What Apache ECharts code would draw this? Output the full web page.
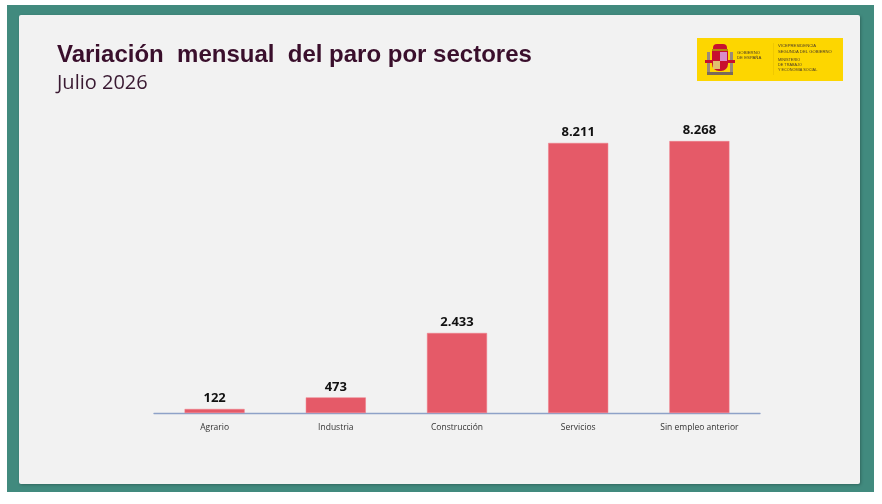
<!DOCTYPE html>
<html>
<head>
<meta charset="utf-8">
<script src="https://cdn.jsdelivr.net/npm/echarts@6/dist/echarts.min.js"></script>
<style>
html,body{margin:0;padding:0;background:#ffffff;}
#c{width:882px;height:504px;}
</style>
</head>
<body>
<div id="c"></div>
<script>
const categories = ['Agrario', 'Industria', 'Construcción', 'Servicios', 'Sin empleo anterior'];
const values = [122, 473, 2433, 8211, 8268];
const titleText = 'Variación  mensual  del paro por sectores';
const subtitleText = 'Julio 2026';

function fmt(v) {
  return String(v).replace(/\B(?=(\d{3})+(?!\d))/g, '.');
}

const chart = echarts.init(document.getElementById('c'), null, { renderer: 'canvas' });

const logoGraphics = [
  { type: 'rect', shape: { x: 697, y: 38, width: 146, height: 43 }, style: { fill: '#fdd600' }, z: 2 },
  // crown
  { type: 'rect', shape: { x: 713, y: 44, width: 14, height: 6, r: [4,4,0,0] }, style: { fill: '#c8102e' }, z: 3 },
  { type: 'rect', shape: { x: 712, y: 49, width: 16, height: 2 }, style: { fill: '#b8860b' }, z: 3 },
  // pillars
  { type: 'rect', shape: { x: 707, y: 52, width: 3, height: 20 }, style: { fill: '#9a8a7a' }, z: 3 },
  { type: 'rect', shape: { x: 730, y: 52, width: 3, height: 20 }, style: { fill: '#9a8a7a' }, z: 3 },
  { type: 'rect', shape: { x: 705, y: 60, width: 30, height: 3 }, style: { fill: '#c8102e' }, z: 3 },
  // shield
  { type: 'rect', shape: { x: 712, y: 51, width: 16, height: 20, r: [0,0,7,7] }, style: { fill: '#c8102e' }, z: 4 },
  { type: 'rect', shape: { x: 720, y: 52, width: 7, height: 9 }, style: { fill: '#d98cc8' }, z: 5 },
  { type: 'rect', shape: { x: 713, y: 61, width: 7, height: 8 }, style: { fill: '#e0c070' }, z: 5 },
  { type: 'rect', shape: { x: 707, y: 72, width: 26, height: 3 }, style: { fill: '#7a6a5a' }, z: 3 },
  // text
  { type: 'text', x: 737, y: 51, style: { text: 'GOBIERNO', fill: '#4a3a2a', font: '4.3px "Liberation Sans"' }, z: 5 },
  { type: 'text', x: 737, y: 56, style: { text: 'DE ESPAÑA', fill: '#4a3a2a', font: '4.3px "Liberation Sans"' }, z: 5 },
  { type: 'rect', shape: { x: 773, y: 43, width: 0.6, height: 32 }, style: { fill: '#e8c000' }, z: 5 },
  { type: 'text', x: 778, y: 44, style: { text: 'VICEPRESIDENCIA', fill: '#4a3a2a', font: '4.2px "Liberation Sans"' }, z: 5 },
  { type: 'text', x: 778, y: 50, style: { text: 'SEGUNDA DEL GOBIERNO', fill: '#4a3a2a', font: '4.2px "Liberation Sans"' }, z: 5 },
  { type: 'text', x: 778, y: 58, style: { text: 'MINISTERIO', fill: '#4a3a2a', font: '3.8px "Liberation Sans"' }, z: 5 },
  { type: 'text', x: 778, y: 63, style: { text: 'DE TRABAJO', fill: '#4a3a2a', font: '3.8px "Liberation Sans"' }, z: 5 },
  { type: 'text', x: 778, y: 68, style: { text: 'Y ECONOMÍA SOCIAL', fill: '#4a3a2a', font: '3.8px "Liberation Sans"' }, z: 5 }
];

chart.setOption({
  animation: false,
  backgroundColor: '#ffffff',
  graphic: [
    { type: 'rect', shape: { x: 7, y: 5, width: 867, height: 487 }, style: { fill: '#418a7e' }, z: -10 },
    { type: 'rect', shape: { x: 19, y: 15, width: 841, height: 469, r: 2 },
      style: { fill: '#f2f2f2', shadowBlur: 3, shadowColor: 'rgba(0,0,0,0.25)', shadowOffsetX: 1, shadowOffsetY: 1 }, z: -9 }
  ].concat(logoGraphics),
  title: {
    text: titleText,
    subtext: subtitleText,
    left: 52,
    top: 38,
    itemGap: 6,
    textStyle: { fontFamily: 'Liberation Sans', fontWeight: 'bold', fontSize: 24, color: '#3a0f2c' },
    subtextStyle: { fontFamily: 'Open Sans', fontSize: 20, color: '#3a1a32' }
  },
  grid: { left: 154, right: 122, top: 117, bottom: 91, containLabel: false },
  xAxis: {
    type: 'category',
    data: categories,
    axisLine: { lineStyle: { color: '#8ea2c8', width: 1.3 } },
    axisTick: { show: false },
    axisLabel: { fontFamily: 'Open Sans', fontSize: 8.5, color: '#333333', margin: 10 }
  },
  yAxis: {
    type: 'value',
    min: 0,
    max: 9000,
    show: false,
    splitLine: { show: false }
  },
  series: [{
    type: 'bar',
    data: values,
    barWidth: 60,
    itemStyle: { color: '#e55a68', borderColor: '#f07a86', borderWidth: 0.5 },
    label: {
      show: true,
      position: 'top',
      distance: 4,
      formatter: p => fmt(p.value),
      fontFamily: 'Open Sans',
      fontWeight: 'bold',
      fontSize: 13,
      color: '#111111'
    }
  }]
});
</script>
</body>
</html>
